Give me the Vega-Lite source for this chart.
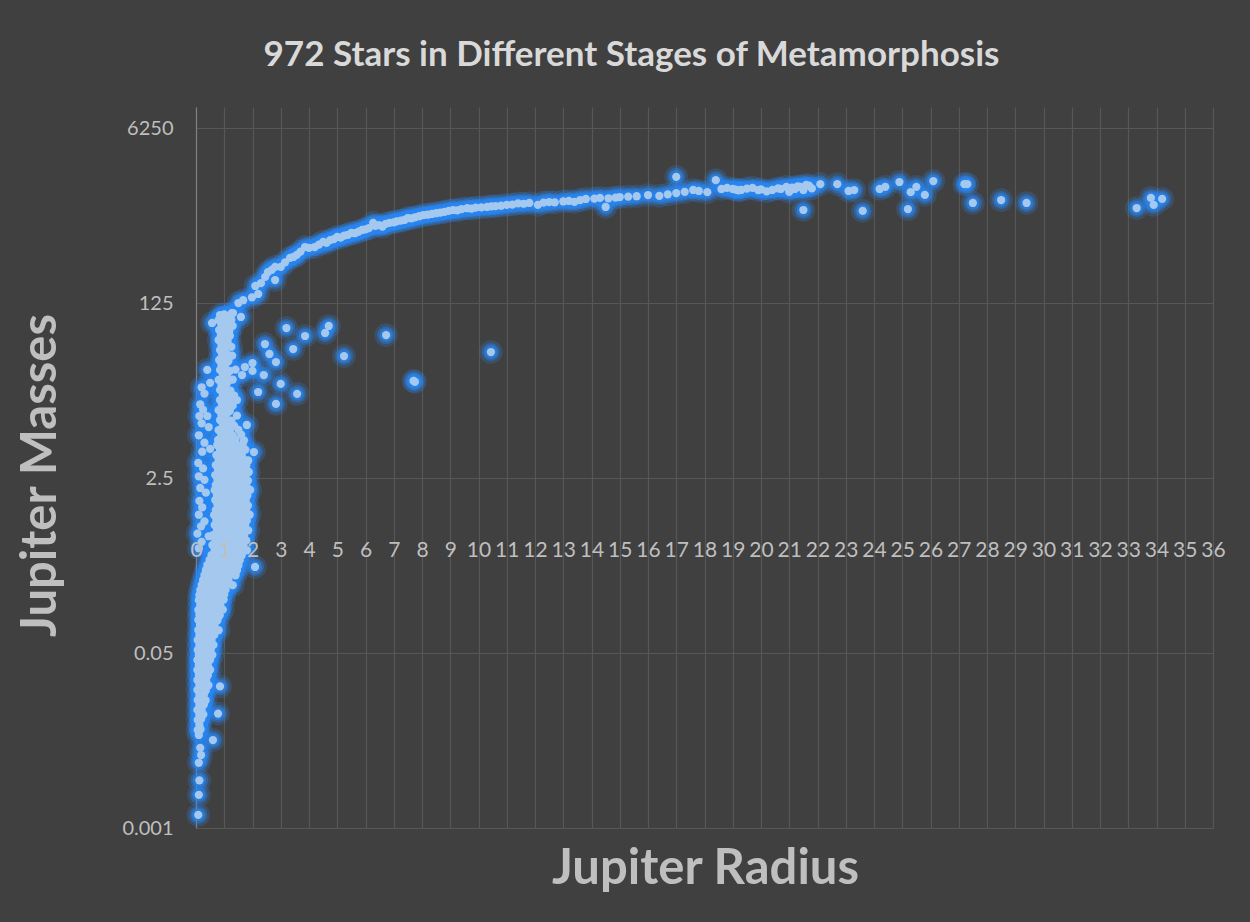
{
"$schema": "https://vega.github.io/schema/vega-lite/v6.json",
"width": 1017, "height": 721,
"autosize": {"type": "none"},
"padding": {"left": 196, "top": 107, "right": 37, "bottom": 94},
"background": "#404040",
"config": {"view": {"stroke": null}, "font": "Lato"},
"title": {"text": "972 Stars in Different Stages of Metamorphosis", "font": "Lato", "fontSize": 35, "fontWeight": "bold", "color": "#d9d9d9", "anchor": "middle", "frame": "group", "dx": -73, "offset": 6, "baseline": "alphabetic"},
"data": {"values": [
{"r":0.85,"m":95.6},{"r":1.0,"m":97},{"r":1.15,"m":94},
{"r":0.8,"m":85.5},{"r":0.95,"m":88},{"r":1.1,"m":84},{"r":1.25,"m":86},
{"r":0.9,"m":76.4},{"r":1.05,"m":78},{"r":1.3,"m":75},
{"r":0.82,"m":68.4},{"r":1.0,"m":70},{"r":1.18,"m":67},
{"r":0.88,"m":61.1},{"r":1.05,"m":62},{"r":1.2,"m":60},
{"r":0.8,"m":54.7},{"r":0.98,"m":56},{"r":1.12,"m":53},
{"r":0.9,"m":48.9},{"r":1.08,"m":50},{"r":1.25,"m":47},
{"r":0.85,"m":43.7},{"r":1.0,"m":44.5},
{"r":0.92,"m":39.1},{"r":1.1,"m":40},{"r":1.28,"m":38.5},
{"r":0.82,"m":35.0},{"r":1.0,"m":35.5},{"r":1.15,"m":34.2},
{"r":0.9,"m":31.3},{"r":1.05,"m":32},
{"r":0.85,"m":28.0},{"r":1.02,"m":28.6},{"r":1.2,"m":27.5},{"r":1.4,"m":28.2},
{"r":0.95,"m":25.0},{"r":1.1,"m":25.5},
{"r":0.8,"m":22.4},{"r":0.98,"m":22.9},{"r":1.15,"m":22},{"r":1.3,"m":22.6},
{"r":0.9,"m":20.0},{"r":1.08,"m":20.4},
{"r":0.85,"m":17.9},{"r":1.0,"m":18.3},{"r":1.22,"m":17.6},
{"r":0.95,"m":16.0},{"r":1.12,"m":16.3},{"r":1.35,"m":15.8},
{"r":0.85,"m":14.3},{"r":1.02,"m":14.6},{"r":1.18,"m":14.1},
{"r":0.92,"m":12.8},{"r":1.1,"m":13.1},{"r":1.3,"m":12.6},
{"r":0.8,"m":11.4},{"r":1.0,"m":11.7},{"r":1.2,"m":11.2},
{"r":0.9,"m":10.2},{"r":1.08,"m":10.4},{"r":1.45,"m":10.1},
{"r":0.85,"m":9.15},{"r":1.02,"m":9.3},{"r":1.25,"m":9.0},
{"r":0.95,"m":8.18},{"r":1.15,"m":8.3},{"r":1.35,"m":8.05},
{"r":0.8,"m":7.31},{"r":1.0,"m":7.45},{"r":1.2,"m":7.2},{"r":1.5,"m":7.35},
{"r":0.9,"m":6.54},{"r":1.1,"m":6.65},{"r":1.3,"m":6.45},{"r":1.6,"m":6.6},
{"r":0.78,"m":5.85},{"r":0.98,"m":5.95},{"r":1.18,"m":5.75},{"r":1.4,"m":5.9},{"r":1.7,"m":5.8},
{"r":0.75,"m":5.23},{"r":0.92,"m":5.3},{"r":1.1,"m":5.15},{"r":1.28,"m":5.25},{"r":1.45,"m":5.2},{"r":1.65,"m":5.3},
{"r":0.85,"m":4.68},{"r":1.02,"m":4.75},{"r":1.2,"m":4.6},{"r":1.38,"m":4.7},{"r":1.56,"m":4.65},{"r":1.75,"m":4.72},
{"r":0.72,"m":4.18},{"r":0.9,"m":4.25},{"r":1.08,"m":4.12},{"r":1.26,"m":4.2},{"r":1.44,"m":4.15},{"r":1.62,"m":4.22},
{"r":0.8,"m":3.74},{"r":0.98,"m":3.8},{"r":1.16,"m":3.7},{"r":1.34,"m":3.76},{"r":1.52,"m":3.72},{"r":1.7,"m":3.78},{"r":1.85,"m":3.7},
{"r":0.7,"m":3.34},{"r":0.88,"m":3.4},{"r":1.06,"m":3.3},{"r":1.24,"m":3.36},{"r":1.42,"m":3.32},{"r":1.6,"m":3.38},{"r":1.78,"m":3.3},
{"r":0.78,"m":2.99},{"r":0.96,"m":3.04},{"r":1.14,"m":2.95},{"r":1.32,"m":3.0},{"r":1.5,"m":2.97},{"r":1.68,"m":3.02},
{"r":0.68,"m":2.67},{"r":0.86,"m":2.71},{"r":1.04,"m":2.64},{"r":1.22,"m":2.69},{"r":1.4,"m":2.65},{"r":1.58,"m":2.7},{"r":1.76,"m":2.64},
{"r":0.76,"m":2.39},{"r":0.94,"m":2.43},{"r":1.12,"m":2.36},{"r":1.3,"m":2.4},{"r":1.48,"m":2.37},{"r":1.66,"m":2.42},{"r":1.84,"m":2.36},
{"r":0.7,"m":2.14},{"r":0.88,"m":2.17},{"r":1.06,"m":2.11},{"r":1.24,"m":2.15},{"r":1.42,"m":2.12},{"r":1.6,"m":2.16},{"r":1.78,"m":2.11},
{"r":0.66,"m":1.91},{"r":0.84,"m":1.94},{"r":1.02,"m":1.89},{"r":1.2,"m":1.92},{"r":1.38,"m":1.9},{"r":1.56,"m":1.93},{"r":1.74,"m":1.89},{"r":1.92,"m":1.92},
{"r":0.74,"m":1.71},{"r":0.92,"m":1.74},{"r":1.1,"m":1.69},{"r":1.28,"m":1.72},{"r":1.46,"m":1.7},{"r":1.64,"m":1.73},{"r":1.82,"m":1.69},
{"r":0.68,"m":1.53},{"r":0.86,"m":1.56},{"r":1.04,"m":1.51},{"r":1.22,"m":1.54},{"r":1.4,"m":1.52},{"r":1.58,"m":1.55},{"r":1.76,"m":1.51},
{"r":0.76,"m":1.37},{"r":0.94,"m":1.39},{"r":1.12,"m":1.35},{"r":1.3,"m":1.38},{"r":1.48,"m":1.36},{"r":1.66,"m":1.39},{"r":1.84,"m":1.35},
{"r":0.7,"m":1.22},{"r":0.88,"m":1.24},{"r":1.06,"m":1.2},{"r":1.24,"m":1.23},{"r":1.42,"m":1.21},{"r":1.6,"m":1.24},{"r":1.78,"m":1.2},
{"r":0.64,"m":1.09},{"r":0.82,"m":1.11},{"r":1.0,"m":1.08},{"r":1.18,"m":1.1},{"r":1.36,"m":1.08},{"r":1.54,"m":1.11},{"r":1.72,"m":1.08},{"r":1.9,"m":1.1},
{"r":0.72,"m":0.977},{"r":0.9,"m":0.99},{"r":1.08,"m":0.965},{"r":1.26,"m":0.98},{"r":1.44,"m":0.97},{"r":1.62,"m":0.99},{"r":1.8,"m":0.965},
{"r":0.66,"m":0.874},{"r":0.84,"m":0.885},{"r":1.02,"m":0.865},{"r":1.2,"m":0.878},{"r":1.38,"m":0.868},{"r":1.56,"m":0.882},{"r":1.74,"m":0.866},
{"r":0.74,"m":0.782},{"r":0.92,"m":0.79},{"r":1.1,"m":0.775},{"r":1.28,"m":0.785},{"r":1.46,"m":0.778},{"r":1.64,"m":0.788},{"r":1.85,"m":0.776},
{"r":0.6,"m":0.699},{"r":0.78,"m":0.707},{"r":0.96,"m":0.693},{"r":1.14,"m":0.702},{"r":1.32,"m":0.695},{"r":1.5,"m":0.705},{"r":1.7,"m":0.694},
{"r":0.68,"m":0.625},{"r":0.86,"m":0.632},{"r":1.04,"m":0.62},{"r":1.22,"m":0.628},{"r":1.4,"m":0.622},{"r":1.58,"m":0.63},{"r":1.78,"m":0.62},
{"r":0.58,"m":0.559},{"r":0.76,"m":0.565},{"r":0.94,"m":0.554},{"r":1.12,"m":0.561},{"r":1.3,"m":0.556},{"r":1.48,"m":0.563},{"r":1.68,"m":0.555},
{"r":0.66,"m":0.5},{"r":0.84,"m":0.506},{"r":1.02,"m":0.496},{"r":1.2,"m":0.502},{"r":1.38,"m":0.497},{"r":1.56,"m":0.504},{"r":1.8,"m":0.497},
{"r":0.55,"m":0.447},{"r":0.72,"m":0.452},{"r":0.9,"m":0.443},{"r":1.08,"m":0.449},{"r":1.26,"m":0.444},{"r":1.44,"m":0.451},{"r":1.62,"m":0.444},
{"r":0.48,"m":0.4},{"r":0.65,"m":0.405},{"r":0.82,"m":0.396},{"r":1.0,"m":0.402},{"r":1.18,"m":0.397},{"r":1.36,"m":0.404},{"r":1.55,"m":0.397},
{"r":0.4,"m":0.357},{"r":0.58,"m":0.361},{"r":0.76,"m":0.354},{"r":0.94,"m":0.359},{"r":1.12,"m":0.355},{"r":1.3,"m":0.36},{"r":1.5,"m":0.354},
{"r":0.35,"m":0.32},{"r":0.52,"m":0.324},{"r":0.7,"m":0.317},{"r":0.88,"m":0.322},{"r":1.06,"m":0.318},{"r":1.25,"m":0.323},{"r":1.45,"m":0.318},
{"r":0.3,"m":0.286},{"r":0.48,"m":0.29},{"r":0.66,"m":0.283},{"r":0.84,"m":0.288},{"r":1.02,"m":0.284},{"r":1.2,"m":0.289},{"r":1.4,"m":0.284},
{"r":0.25,"m":0.256},{"r":0.42,"m":0.259},{"r":0.6,"m":0.253},{"r":0.78,"m":0.258},{"r":0.96,"m":0.254},{"r":1.15,"m":0.258},
{"r":0.2,"m":0.229},{"r":0.38,"m":0.232},{"r":0.56,"m":0.227},{"r":0.74,"m":0.231},{"r":0.92,"m":0.227},{"r":1.1,"m":0.231},{"r":1.3,"m":0.228},
{"r":0.15,"m":0.204},{"r":0.32,"m":0.207},{"r":0.5,"m":0.202},{"r":0.68,"m":0.206},{"r":0.86,"m":0.203},{"r":1.05,"m":0.206},
{"r":0.12,"m":0.183},{"r":0.3,"m":0.185},{"r":0.48,"m":0.181},{"r":0.66,"m":0.184},{"r":0.84,"m":0.182},{"r":1.0,"m":0.185},
{"r":0.1,"m":0.163},{"r":0.28,"m":0.165},{"r":0.45,"m":0.162},{"r":0.62,"m":0.164},{"r":0.8,"m":0.162},{"r":0.98,"m":0.165},
{"r":0.15,"m":0.146},{"r":0.32,"m":0.148},{"r":0.5,"m":0.145},{"r":0.68,"m":0.147},{"r":0.86,"m":0.145},
{"r":0.08,"m":0.131},{"r":0.25,"m":0.133},{"r":0.42,"m":0.13},{"r":0.6,"m":0.132},{"r":0.78,"m":0.13},{"r":0.95,"m":0.132},
{"r":0.12,"m":0.117},{"r":0.3,"m":0.118},{"r":0.48,"m":0.116},{"r":0.66,"m":0.118},{"r":0.84,"m":0.116},
{"r":0.08,"m":0.105},{"r":0.22,"m":0.106},{"r":0.4,"m":0.104},{"r":0.58,"m":0.106},{"r":0.76,"m":0.104},
{"r":0.14,"m":0.0935},{"r":0.3,"m":0.0945},{"r":0.48,"m":0.0928},{"r":0.66,"m":0.094},
{"r":0.08,"m":0.0836},{"r":0.24,"m":0.0845},{"r":0.42,"m":0.083},{"r":0.6,"m":0.084},{"r":0.8,"m":0.0832},
{"r":0.12,"m":0.0748},{"r":0.3,"m":0.0755},{"r":0.48,"m":0.0742},{"r":0.65,"m":0.075},
{"r":0.06,"m":0.0669},{"r":0.2,"m":0.0675},{"r":0.38,"m":0.0664},{"r":0.55,"m":0.0672},
{"r":0.12,"m":0.0598},{"r":0.28,"m":0.0604},{"r":0.45,"m":0.0594},{"r":0.62,"m":0.06},
{"r":0.06,"m":0.0535},{"r":0.2,"m":0.054},{"r":0.36,"m":0.0531},{"r":0.52,"m":0.0538},
{"r":0.1,"m":0.0478},{"r":0.26,"m":0.0483},{"r":0.42,"m":0.0474},{"r":0.58,"m":0.048},
{"r":0.05,"m":0.0428},{"r":0.18,"m":0.0432},{"r":0.34,"m":0.0425},{"r":0.5,"m":0.043},
{"r":0.1,"m":0.0382},{"r":0.26,"m":0.0386},{"r":0.42,"m":0.038},
{"r":0.05,"m":0.0342},{"r":0.18,"m":0.0345},{"r":0.34,"m":0.034},{"r":0.5,"m":0.0344},
{"r":0.1,"m":0.0306},{"r":0.26,"m":0.0309},{"r":0.42,"m":0.0304},
{"r":0.05,"m":0.0273},{"r":0.2,"m":0.0276},{"r":0.36,"m":0.0271},
{"r":0.12,"m":0.0245},{"r":0.28,"m":0.0247},{"r":0.44,"m":0.0243},{"r":0.85,"m":0.0237},
{"r":0.05,"m":0.0219},{"r":0.2,"m":0.0221},{"r":0.35,"m":0.0217},
{"r":0.12,"m":0.0196},{"r":0.28,"m":0.0198},
{"r":0.06,"m":0.0175},{"r":0.2,"m":0.0177},{"r":0.34,"m":0.0174},
{"r":0.12,"m":0.0156},{"r":0.28,"m":0.0158},
{"r":0.05,"m":0.014},{"r":0.2,"m":0.0142},{"r":0.78,"m":0.0129},
{"r":0.12,"m":0.0125},{"r":0.26,"m":0.0127},
{"r":0.06,"m":0.0112},{"r":0.18,"m":0.0114},
{"r":0.12,"m":0.01},{"r":0.06,"m":0.00894},{"r":0.16,"m":0.0091},{"r":0.1,"m":0.008},
{"r":0.6,"m":0.00715},{"r":0.15,"m":0.006},{"r":0.18,"m":0.0051},{"r":0.1,"m":0.0043},{"r":0.12,"m":0.0029},{"r":0.1,"m":0.0021},{"r":0.08,"m":0.00134},
{"r":0.57,"m":80},{"r":0.4,"m":28},{"r":0.5,"m":21},{"r":0.2,"m":19},{"r":0.3,"m":16.5},{"r":0.15,"m":13},{"r":0.25,"m":11.5},{"r":0.12,"m":10},{"r":0.4,"m":10},{"r":0.2,"m":8.5},{"r":0.45,"m":7.8},{"r":0.1,"m":6.5},{"r":0.3,"m":5.5},{"r":0.22,"m":4.5},{"r":0.5,"m":4.8},{"r":0.08,"m":3.5},{"r":0.25,"m":3.1},{"r":0.1,"m":2.6},{"r":0.3,"m":2.4},{"r":0.15,"m":2.0},{"r":0.35,"m":1.8},{"r":0.12,"m":1.5},{"r":0.22,"m":1.3},{"r":0.1,"m":1.1},{"r":0.3,"m":0.95},{"r":0.18,"m":0.85},{"r":0.05,"m":0.72},{"r":0.45,"m":0.68},{"r":0.2,"m":0.6},{"r":0.1,"m":0.52},
{"r":3.2,"m":71.5},{"r":3.86,"m":59.8},{"r":4.7,"m":74.8},{"r":4.57,"m":64},{"r":6.73,"m":61},{"r":5.24,"m":38.2},{"r":7.7,"m":21.9},{"r":7.75,"m":21.5},{"r":2.44,"m":50},{"r":2.6,"m":40},{"r":2.83,"m":33.4},{"r":3.44,"m":44.7},{"r":3.0,"m":20.5},{"r":3.58,"m":16.4},{"r":2.83,"m":13.1},{"r":2.2,"m":17.1},{"r":2.4,"m":25},{"r":2.0,"m":32.7},{"r":1.73,"m":29.9},{"r":1.63,"m":25},{"r":2.0,"m":27.4},{"r":1.8,"m":8.18},{"r":2.05,"m":4.47},{"r":1.87,"m":2.86},{"r":2.09,"m":0.342},{"r":1.45,"m":14.3},{"r":10.44,"m":41.8},{"r":1.59,"m":91.5},{"r":1.27,"m":100},
{"r":1.31,"m":100},{"r":1.5,"m":125},{"r":1.67,"m":133},{"r":1.98,"m":142},{"r":2.2,"m":153},{"r":2.1,"m":183},{"r":2.3,"m":195},{"r":2.45,"m":224},{"r":2.55,"m":250},{"r":2.8,"m":209},{"r":2.8,"m":280},{"r":2.68,"m":262},{"r":3.0,"m":280},{"r":3.15,"m":310},{"r":3.33,"m":343},{"r":3.45,"m":350},{"r":3.57,"m":367},{"r":3.7,"m":395},{"r":3.86,"m":437},{"r":4.0,"m":430},{"r":4.2,"m":437},{"r":4.35,"m":462},{"r":4.5,"m":490},{"r":4.62,"m":480},{"r":4.75,"m":510},{"r":4.88,"m":522},{"r":5.0,"m":548},{"r":5.12,"m":540},{"r":5.25,"m":565},{"r":5.38,"m":575},{"r":5.5,"m":600},{"r":5.62,"m":595},{"r":5.75,"m":615},{"r":5.88,"m":640},{"r":6.0,"m":650},{"r":6.12,"m":668},{"r":6.27,"m":750},{"r":6.35,"m":700},{"r":6.48,"m":712},{"r":6.6,"m":690},{"r":6.72,"m":735},{"r":6.85,"m":750},{"r":7.0,"m":760},{"r":7.1,"m":775},{"r":7.25,"m":790},{"r":7.38,"m":800},{"r":7.5,"m":836},{"r":7.62,"m":830},{"r":7.75,"m":850},{"r":7.9,"m":870},{"r":8.05,"m":894},{"r":8.2,"m":900},{"r":8.35,"m":915},{"r":8.5,"m":930},{"r":8.65,"m":945},{"r":8.8,"m":960},{"r":8.95,"m":980},{"r":9.1,"m":1000},{"r":9.25,"m":990},{"r":9.4,"m":1020},{"r":9.6,"m":1040},{"r":9.75,"m":1030},{"r":9.9,"m":1055},{"r":10.1,"m":1060},{"r":10.3,"m":1070},{"r":10.45,"m":1085},{"r":10.6,"m":1090},{"r":10.8,"m":1100},{"r":11.0,"m":1120},{"r":11.2,"m":1130},{"r":11.4,"m":1160},{"r":11.6,"m":1150},{"r":11.8,"m":1170},{"r":12.1,"m":1120},{"r":12.3,"m":1180},{"r":12.5,"m":1195},{"r":12.7,"m":1185},{"r":13.0,"m":1210},{"r":13.2,"m":1223},{"r":13.4,"m":1200},{"r":13.6,"m":1250},{"r":13.8,"m":1279},{"r":14.1,"m":1290},{"r":14.3,"m":1310},{"r":14.5,"m":1070},{"r":14.6,"m":1300},{"r":14.85,"m":1320},{"r":15.0,"m":1337},{"r":15.3,"m":1350},{"r":15.6,"m":1360},{"r":16.0,"m":1398},{"r":16.4,"m":1370},{"r":16.7,"m":1420},
{"r":17.0,"m":2100},{"r":17.0,"m":1460},{"r":17.3,"m":1500},{"r":17.6,"m":1565},{"r":17.8,"m":1530},{"r":18.1,"m":1490},{"r":18.4,"m":1950},{"r":18.6,"m":1600},{"r":18.8,"m":1640},{"r":19.0,"m":1600},{"r":19.1,"m":1580},{"r":19.2,"m":1550},{"r":19.3,"m":1565},{"r":19.5,"m":1610},{"r":19.7,"m":1640},{"r":19.9,"m":1560},{"r":20.0,"m":1590},{"r":20.2,"m":1520},{"r":20.4,"m":1565},{"r":20.6,"m":1620},{"r":20.7,"m":1600},{"r":20.9,"m":1680},{"r":21.0,"m":1500},{"r":21.1,"m":1650},{"r":21.2,"m":1600},{"r":21.3,"m":1700},{"r":21.4,"m":1680},{"r":21.5,"m":1000},{"r":21.5,"m":1565},{"r":21.6,"m":1750},{"r":21.7,"m":1720},{"r":21.8,"m":1620},{"r":22.1,"m":1780},{"r":22.7,"m":1780},{"r":23.1,"m":1530},{"r":23.3,"m":1560},{"r":23.6,"m":980},{"r":24.2,"m":1600},{"r":24.4,"m":1680},{"r":24.9,"m":1870},{"r":25.2,"m":1020},{"r":25.3,"m":1490},{"r":25.5,"m":1680},{"r":25.8,"m":1400},{"r":26.1,"m":1910},{"r":27.2,"m":1780},{"r":27.3,"m":1780},{"r":27.5,"m":1170},{"r":28.5,"m":1250},{"r":29.4,"m":1170},{"r":33.3,"m":1045},{"r":33.8,"m":1310},{"r":33.9,"m":1120},{"r":34.2,"m":1280}
]},
"encoding": {
  "y": {"field": "m", "type": "quantitative",
    "scale": {"type": "log", "base": 50, "domain": [0.001, 10000], "nice": false},
    "axis": {"values": [0.001, 0.05, 2.5, 125, 6250], "format": "~g",
      "domain": true, "domainColor": "#808080", "domainWidth": 1.2, "ticks": false, "labelPadding": 23,
      "labelFont": "Lato", "labelFontSize": 20, "labelColor": "#bfbfbf",
      "grid": true, "gridColor": "#575757", "gridWidth": 1.2,
      "title": "Jupiter Masses", "titleFont": "Lato", "titleFontSize": 49, "titleFontWeight": "bold", "titleColor": "#bfbfbf",
      "titleAngle": 270, "titleX": -156, "titleY": 368, "titleAlign": "center", "titleBaseline": "middle"}}
},
"resolve": {"axis": {"x": "independent"}},
"layer": [
  {"mark": {"type": "circle", "size": 560, "opacity": 0.2, "color": "#2a8cff"},
   "encoding": {"x": {"field": "r", "type": "quantitative",
     "scale": {"domain": [0, 36], "nice": false, "zero": false},
     "axis": {"orient": "bottom", "values": [0,1,2,3,4,5,6,7,8,9,10,11,12,13,14,15,16,17,18,19,20,21,22,23,24,25,26,27,28,29,30,31,32,33,34,35,36],
       "labels": false, "domain": false, "ticks": false, "title": null,
       "grid": true, "gridColor": "#575757", "gridWidth": 1.2, "zindex": 0}}}},
  {"mark": {"type": "circle", "size": 320, "opacity": 0.35, "color": "#2a8cff"},
   "encoding": {"x": {"field": "r", "type": "quantitative", "axis": null}}},
  {"mark": {"type": "circle", "size": 180, "opacity": 0.65, "color": "#2585f5"},
   "encoding": {"x": {"field": "r", "type": "quantitative", "axis": null}}},
  {"mark": {"type": "circle", "size": 68, "opacity": 1, "color": "#a4c8ee"},
   "encoding": {"x": {"field": "r", "type": "quantitative",
     "axis": {"orient": "bottom", "values": [0,1,2,3,4,5,6,7,8,9,10,11,12,13,14,15,16,17,18,19,20,21,22,23,24,25,26,27,28,29,30,31,32,33,34,35,36],
       "format": "d", "offset": -309, "domain": false, "ticks": false, "labelPadding": 20, "grid": false,
       "labelFont": "Lato", "labelFontSize": 21, "labelColor": "#bfbfbf", "labelOverlap": false, "labelFlush": false,
       "title": "Jupiter Radius", "titleFont": "Lato", "titleFontSize": 49, "titleFontWeight": "bold", "titleColor": "#bfbfbf",
       "titleX": 509, "titleY": 349, "titleAlign": "center", "titleBaseline": "middle", "zindex": 1}}}}
]
}
